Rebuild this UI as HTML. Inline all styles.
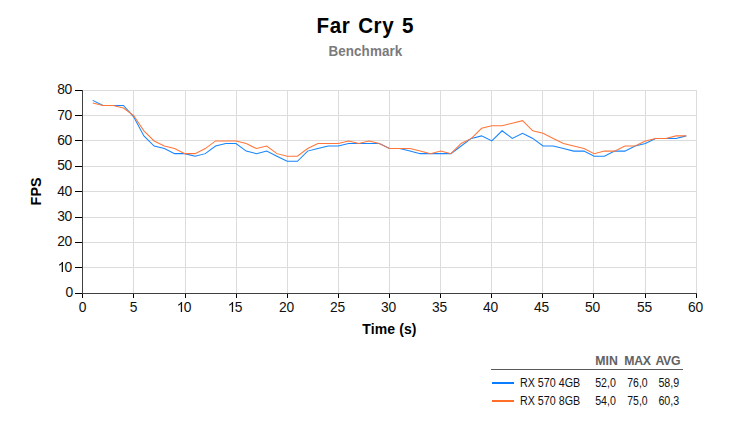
<!DOCTYPE html>
<html><head><meta charset="utf-8"><title>Far Cry 5 Benchmark</title>
<style>html,body{margin:0;padding:0;background:#fff}body{width:730px;height:430px;overflow:hidden}svg{display:block}text{font-family:"Liberation Sans",sans-serif}</style></head><body>
<svg width="730" height="430" viewBox="0 0 730 430">
<rect width="730" height="430" fill="#fff"/>
<g fill="#dcdcdc" shape-rendering="crispEdges">
<rect x="83" y="90" width="614" height="1"/>
<rect x="83" y="115" width="614" height="1"/>
<rect x="83" y="140" width="614" height="1"/>
<rect x="83" y="166" width="614" height="1"/>
<rect x="83" y="191" width="614" height="1"/>
<rect x="83" y="217" width="614" height="1"/>
<rect x="83" y="242" width="614" height="1"/>
<rect x="83" y="267" width="614" height="1"/>
<rect x="133" y="90" width="1" height="203"/>
<rect x="185" y="90" width="1" height="203"/>
<rect x="236" y="90" width="1" height="203"/>
<rect x="287" y="90" width="1" height="203"/>
<rect x="338" y="90" width="1" height="203"/>
<rect x="389" y="90" width="1" height="203"/>
<rect x="440" y="90" width="1" height="203"/>
<rect x="491" y="90" width="1" height="203"/>
<rect x="542" y="90" width="1" height="203"/>
<rect x="593" y="90" width="1" height="203"/>
<rect x="645" y="90" width="1" height="203"/>
<rect x="696" y="90" width="1" height="203"/>
</g>
<polyline fill="none" stroke="#1585ff" stroke-width="1.05" stroke-linejoin="miter" points="92.73,100.35 102.97,105.42 113.20,105.42 123.43,105.42 133.67,116.84 143.90,135.88 154.13,146.02 164.37,148.56 174.60,153.64 184.83,153.64 195.07,156.17 205.30,153.64 215.53,146.02 225.77,143.49 236.00,143.49 246.23,151.10 256.47,153.64 266.70,151.10 276.93,156.17 287.17,161.25 297.40,161.25 307.63,151.10 317.87,148.56 328.10,146.02 338.33,146.02 348.57,143.49 358.80,143.49 369.03,143.49 379.27,143.49 389.50,148.56 399.73,148.56 409.97,151.10 420.20,153.64 430.43,153.64 440.67,153.64 450.90,153.64 461.13,146.02 471.37,138.41 481.60,135.88 491.83,140.95 502.07,130.80 512.30,138.41 522.53,133.34 532.77,138.41 543.00,146.02 553.23,146.02 563.47,148.56 573.70,151.10 583.93,151.10 594.17,156.17 604.40,156.17 614.63,151.10 624.87,151.10 635.10,146.02 645.33,143.49 655.57,138.41 665.80,138.41 676.03,138.41 686.27,135.88"/>
<polyline fill="none" stroke="#ff763a" stroke-width="1.05" stroke-linejoin="miter" points="92.73,102.89 102.97,105.42 113.20,105.42 123.43,107.96 133.67,115.57 143.90,130.80 154.13,140.95 164.37,146.02 174.60,148.56 184.83,153.64 195.07,153.64 205.30,148.56 215.53,140.95 225.77,140.95 236.00,140.95 246.23,143.49 256.47,148.56 266.70,146.02 276.93,153.64 287.17,156.17 297.40,156.17 307.63,148.56 317.87,143.49 328.10,143.49 338.33,143.49 348.57,140.95 358.80,143.49 369.03,140.95 379.27,143.49 389.50,148.56 399.73,148.56 409.97,148.56 420.20,151.10 430.43,153.64 440.67,151.10 450.90,153.64 461.13,143.49 471.37,138.41 481.60,128.26 491.83,125.72 502.07,125.72 512.30,123.19 522.53,120.65 532.77,130.80 543.00,133.34 553.23,138.41 563.47,143.49 573.70,146.02 583.93,148.56 594.17,153.64 604.40,151.10 614.63,151.10 624.87,146.02 635.10,146.02 645.33,140.95 655.57,138.41 665.80,138.41 676.03,135.88 686.27,135.88"/>
<g fill="#404040" shape-rendering="crispEdges">
<rect x="82" y="90" width="1" height="204"/>
<rect x="82" y="293" width="615" height="1"/>
</g>
<g fill="#000" shape-rendering="crispEdges">
<rect x="75" y="90" width="7" height="1"/>
<rect x="75" y="115" width="7" height="1"/>
<rect x="75" y="140" width="7" height="1"/>
<rect x="75" y="166" width="7" height="1"/>
<rect x="75" y="191" width="7" height="1"/>
<rect x="75" y="217" width="7" height="1"/>
<rect x="75" y="242" width="7" height="1"/>
<rect x="75" y="267" width="7" height="1"/>
<rect x="75" y="293" width="7" height="1"/>
<rect x="82" y="294" width="1" height="4"/>
<rect x="133" y="294" width="1" height="4"/>
<rect x="185" y="294" width="1" height="4"/>
<rect x="236" y="294" width="1" height="4"/>
<rect x="287" y="294" width="1" height="4"/>
<rect x="338" y="294" width="1" height="4"/>
<rect x="389" y="294" width="1" height="4"/>
<rect x="440" y="294" width="1" height="4"/>
<rect x="491" y="294" width="1" height="4"/>
<rect x="542" y="294" width="1" height="4"/>
<rect x="593" y="294" width="1" height="4"/>
<rect x="645" y="294" width="1" height="4"/>
<rect x="696" y="294" width="1" height="4"/>
</g>
<g font-size="13.8" letter-spacing="-0.35" fill="#111">
<text x="71.9" y="94.0" text-anchor="end">80</text>
<text x="71.9" y="120.0" text-anchor="end">70</text>
<text x="71.9" y="145.0" text-anchor="end">60</text>
<text x="71.9" y="170.0" text-anchor="end">50</text>
<text x="71.9" y="196.0" text-anchor="end">40</text>
<text x="71.9" y="221.0" text-anchor="end">30</text>
<text x="71.9" y="246.0" text-anchor="end">20</text>
<text x="71.9" y="272.0" text-anchor="end">0</text>
<path transform="translate(63.00,272.00)" d="M0,0V-10H-0.95Q-1.9,-8.2 -3.9,-7.5V-6.3Q-2.3,-6.9 -1.3,-7.9V0Z" fill="#111"/>
<text x="72.9" y="297.0" text-anchor="end">0</text>
<text x="82.5" y="312.0" text-anchor="middle">0</text>
<text x="133.5" y="312.0" text-anchor="middle">5</text>
<path transform="translate(182.10,312.00)" d="M0,0V-10H-0.95Q-1.9,-8.2 -3.9,-7.5V-6.3Q-2.3,-6.9 -1.3,-7.9V0Z" fill="#111"/>
<text x="183.8" y="312.0" text-anchor="start">0</text>
<path transform="translate(233.10,312.00)" d="M0,0V-10H-0.95Q-1.9,-8.2 -3.9,-7.5V-6.3Q-2.3,-6.9 -1.3,-7.9V0Z" fill="#111"/>
<text x="234.8" y="312.0" text-anchor="start">5</text>
<text x="286.4" y="312.0" text-anchor="middle">20</text>
<text x="337.4" y="312.0" text-anchor="middle">25</text>
<text x="388.4" y="312.0" text-anchor="middle">30</text>
<text x="439.4" y="312.0" text-anchor="middle">35</text>
<text x="490.4" y="312.0" text-anchor="middle">40</text>
<text x="541.4" y="312.0" text-anchor="middle">45</text>
<text x="592.4" y="312.0" text-anchor="middle">50</text>
<text x="644.4" y="312.0" text-anchor="middle">55</text>
<text x="695.4" y="312.0" text-anchor="middle">60</text>
</g>
<text transform="translate(365.3,33.0) scale(1.0,1.06)" font-size="20.6" font-weight="bold" text-anchor="middle" fill="#000" letter-spacing="0.55" word-spacing="1.6">Far Cry 5</text>
<text transform="translate(365.4,55.7) scale(1.01,1.1)" font-size="13.3" font-weight="bold" text-anchor="middle" fill="#7a7a7c" letter-spacing="0.1" word-spacing="0">Benchmark</text>
<text transform="translate(389.5,334.0) scale(1.03,1.1)" font-size="13.6" font-weight="bold" text-anchor="middle" fill="#000" letter-spacing="0.1" word-spacing="0">Time (s)</text>
<text transform="translate(40.5,191.4) rotate(-90)" font-size="14.4" font-weight="bold" text-anchor="middle" fill="#000" letter-spacing="0">FPS</text>
<g font-size="12.3" font-weight="bold" fill="#626262">
<text x="606.5" y="364.8" text-anchor="middle">MIN</text>
<text x="637.5" y="364.8" text-anchor="middle" letter-spacing="-0.3">MAX</text>
<text x="667.8" y="364.8" text-anchor="middle" letter-spacing="-0.3">AVG</text>
</g>
<rect x="491" y="369" width="192" height="1" fill="#5a5a5a" shape-rendering="crispEdges"/>
<rect x="492" y="382" width="22" height="2" fill="#0a7dff" shape-rendering="crispEdges"/>
<rect x="492" y="400" width="22" height="2" fill="#ff6f2a" shape-rendering="crispEdges"/>
<g font-size="12.5" fill="#111">
<text x="520" y="386.6" textLength="60.2" lengthAdjust="spacingAndGlyphs">RX 570 4GB</text>
<text x="595.2" y="386.6" textLength="20.7" lengthAdjust="spacingAndGlyphs">52,0</text>
<text x="627.3" y="386.6" textLength="20.3" lengthAdjust="spacingAndGlyphs">76,0</text>
<text x="658.4" y="386.6" textLength="20.8" lengthAdjust="spacingAndGlyphs">58,9</text>
<text x="520" y="404.6" textLength="60.2" lengthAdjust="spacingAndGlyphs">RX 570 8GB</text>
<text x="595.2" y="404.6" textLength="20.7" lengthAdjust="spacingAndGlyphs">54,0</text>
<text x="627.3" y="404.6" textLength="20.3" lengthAdjust="spacingAndGlyphs">75,0</text>
<text x="658.4" y="404.6" textLength="20.8" lengthAdjust="spacingAndGlyphs">60,3</text>
</g>
</svg></body></html>
